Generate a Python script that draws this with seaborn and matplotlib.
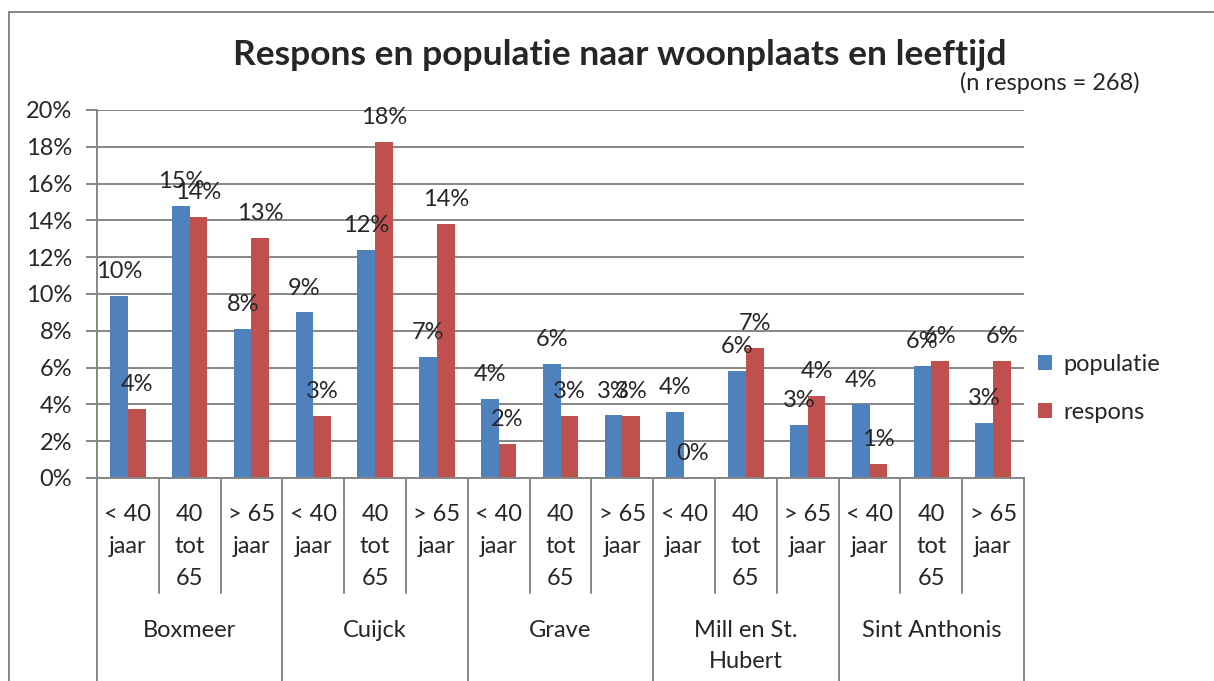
import matplotlib
matplotlib.use("Agg")
import matplotlib.pyplot as plt
import matplotlib.transforms as mtransforms
from matplotlib.patches import Rectangle
import seaborn as sns
import pandas as pd

sns.set_theme(style="white")
plt.rcParams["font.family"] = ["Lato", "DejaVu Sans"]

# data (percentages)
gemeenten = ["Boxmeer", "Cuijck", "Grave", "Mill en St.\nHubert", "Sint Anthonis"]
leeftijden = ["< 40\njaar", "40\ntot\n65", "> 65\njaar"]
populatie = [9.9, 14.8, 8.1, 9.0, 12.4, 6.6, 4.3, 6.2, 3.4, 3.6, 5.8, 2.9, 4.0, 6.1, 3.0]
respons = [3.73, 14.18, 13.06, 3.36, 18.28, 13.81, 1.87, 3.36, 3.36, 0.0, 7.09, 4.48, 0.75, 6.34, 6.34]
series = ["populatie", "respons"]
kleuren = ["#4F81BD", "#C0504D"]
y_ticks = [0, 2, 4, 6, 8, 10, 12, 14, 16, 18, 20]

fs = 17

cats = [f"{g}|{a}" for g in gemeenten for a in leeftijden]
df = pd.DataFrame({
    "cat": cats * 2,
    "serie": [series[0]] * len(cats) + [series[1]] * len(cats),
    "waarde": populatie + respons,
})

fig = plt.figure(figsize=(12.14, 6.81), dpi=100)
ax = fig.add_axes([97 / 1214, 1 - 478 / 681, (1024 - 97) / 1214, 368 / 681])

sns.barplot(data=df, x="cat", y="waarde", hue="serie", order=cats,
            hue_order=series, palette=kleuren, saturation=1, width=0.57, gap=0,
            linewidth=0, errorbar=None, ax=ax)

ax.set_ylim(0, 20)
ax.set_xlim(-0.5, len(cats) - 0.5)
ax.set_yticks(y_ticks)
ax.set_yticklabels([f"{t}%" for t in y_ticks], fontsize=fs)
ax.set_xticks([])
ax.set_xlabel("")
ax.set_ylabel("")
ax.grid(axis="y", color="#868686", linewidth=1.4)
ax.set_axisbelow(True)
for s in ["top", "right"]:
    ax.spines[s].set_visible(False)
for s in ["left", "bottom"]:
    ax.spines[s].set_color("#868686")
    ax.spines[s].set_linewidth(1.4)
ax.tick_params(axis="y", left=True, length=8, width=1.4, color="#868686", pad=10)

for cont, vals in zip(ax.containers, [populatie, respons]):
    ax.bar_label(cont, labels=[f"{v:.0f}%" for v in vals], padding=10, fontsize=fs)

# multi-level category axis
tr = mtransforms.blended_transform_factory(ax.transData, ax.transAxes)
lijn = dict(color="#868686", linewidth=1.4, clip_on=False, transform=tr)
for i in range(len(cats) + 1):
    x = i - 0.5
    if i % 3 == 0:
        ax.plot([x, x], [0, -0.6], **lijn)
    else:
        ax.plot([x, x], [0, -0.313], **lijn)
for i, c in enumerate(cats):
    ax.text(i, -0.07, leeftijden[i % 3], transform=tr, ha="center", va="top",
            fontsize=fs, linespacing=1.66)
for j, g in enumerate(gemeenten):
    ax.text(3 * j + 1, -0.386, g, transform=tr, ha="center", va="top",
            fontsize=fs, linespacing=1.56)

# legend
ax.legend(loc="upper left", bbox_to_anchor=(1026 / 1214, 1 - 342 / 681),
          bbox_transform=fig.transFigure, frameon=False, fontsize=fs,
          handlelength=0.6, handleheight=0.6, handletextpad=0.5,
          labelspacing=1.15, borderpad=0, title=None)

fig.text(620 / 1214, 1 - 55 / 681, "Respons en populatie naar woonplaats en leeftijd",
         ha="center", va="center", fontsize=25.5, fontweight="bold")
fig.text(1140 / 1214, 1 - 83 / 681, "(n respons = 268)", ha="right", va="center",
         fontsize=fs)

# chart border
fig.add_artist(Rectangle((9 / 1214, -0.1), 1.2, 1 - 11.5 / 681 + 0.1, fill=False,
                         edgecolor="#868686", linewidth=1.4, transform=fig.transFigure))

fig.savefig("out.png", dpi=100)
